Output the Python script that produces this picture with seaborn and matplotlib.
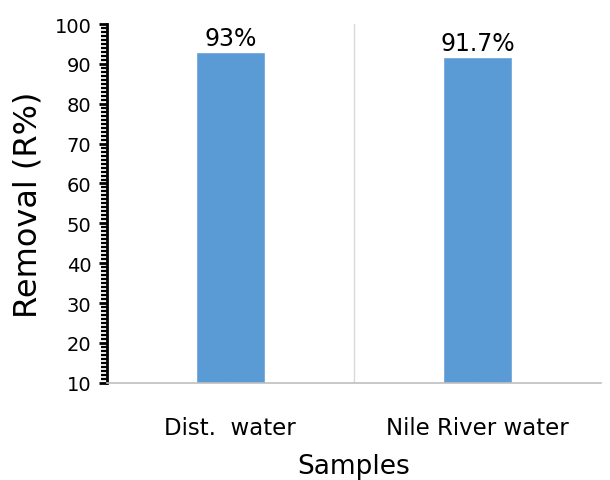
import matplotlib
matplotlib.use("Agg")
import matplotlib.pyplot as plt
from matplotlib.ticker import MultipleLocator
import seaborn as sns
import pandas as pd

categories = ["Dist.  water", "Nile River water"]
removal = [93.0, 91.7]
labels = ["93%", "91.7%"]

sns.set_theme(style="white")
plt.rcParams['font.family'] = ['DejaVu Sans']
plt.rcParams['text.color'] = 'black'
plt.rcParams['axes.labelcolor'] = 'black'
plt.rcParams['xtick.labelcolor'] = 'black'
plt.rcParams['ytick.labelcolor'] = 'black'

df = pd.DataFrame({"Samples": categories, "Removal": removal})

fig = plt.figure(figsize=(6.1, 4.81), dpi=100)
ax = fig.add_axes([0.175, 0.202, 0.81, 0.746])

sns.barplot(data=df, x="Samples", y="Removal", color="#5b9bd5", width=0.28,
            saturation=1, ax=ax, bottom=0)

ax.set_ylim(10, 100)
ax.set_xlim(-0.5, 1.5)
ax.yaxis.set_major_locator(MultipleLocator(10))
ax.yaxis.set_minor_locator(MultipleLocator(1))
ax.tick_params(axis="y", which="major", direction="out", length=6, width=2,
               color="black", labelsize=14, left=True, pad=5)
ax.tick_params(axis="y", which="minor", direction="out", length=4, width=1.6,
               color="black", left=True)
ax.tick_params(axis="x", which="major", direction="in", length=4, width=1,
               color="#bfbfbf", labelsize=16.5, bottom=True, pad=24)

for s in ["top", "right"]:
    ax.spines[s].set_visible(False)
ax.spines["left"].set_color("black")
ax.spines["left"].set_linewidth(2)
ax.spines["bottom"].set_color("#bfbfbf")
ax.spines["bottom"].set_linewidth(1.2)

ax.axvline(0.5, color="#d9d9d9", lw=1, zorder=0)

for i, (v, t) in enumerate(zip(removal, labels)):
    ax.text(i, v + 0.6, t, ha="center", va="bottom", fontsize=17, color="black")

ax.set_ylabel("Removal (R%)", fontsize=23, labelpad=8)
ax.set_xlabel("Samples", fontsize=19, labelpad=10)

fig.savefig("out.png", dpi=100)
